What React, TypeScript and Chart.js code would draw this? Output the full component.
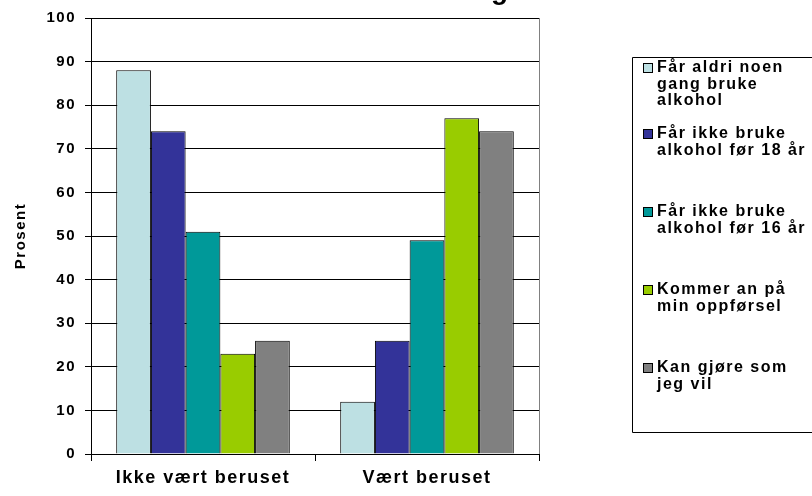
import React, { useEffect, useRef } from "react";
import { Chart, registerables } from "chart.js";

Chart.register(...registerables);

const categories = ["Ikke vært beruset", "Vært beruset"];
const seriesLabelLines = [
  ["Får aldri noen", "gang bruke", "alkohol"],
  ["Får ikke bruke", "alkohol før 18 år"],
  ["Får ikke bruke", "alkohol før 16 år"],
  ["Kommer an på", "min oppførsel"],
  ["Kan gjøre som", "jeg vil"],
];
const seriesAldri = [88, 12];
const seriesFor18 = [74, 26];
const seriesFor16 = [51, 49];
const seriesKommerAn = [23, 77];
const seriesKanGjore = [26, 74];
const seriesValues = [seriesAldri, seriesFor18, seriesFor16, seriesKommerAn, seriesKanGjore];
const seriesColors = ["#BDE0E3", "#333399", "#009999", "#99CC00", "#808080"];
const yMin = 0;
const yMax = 100;
const yStep = 10;
const yAxisTitle = "Prosent";
const titleText = "Foreldrenes holdning";

const FONT = "'Liberation Sans', Arial, Helvetica, sans-serif";
const SPACING = "1.5px";

const spacingPlugin = {
  id: "spacing",
  beforeUpdate(chart: any) {
    chart.ctx.letterSpacing = SPACING;
  },
  beforeDraw(chart: any) {
    chart.ctx.letterSpacing = SPACING;
  },
};

const decorPlugin = {
  id: "decor",
  afterDraw(chart: any) {
    const ctx = chart.ctx as CanvasRenderingContext2D;
    const area = chart.chartArea;
    ctx.save();
    // right border of plot area
    ctx.strokeStyle = "#808080";
    ctx.lineWidth = 1;
    ctx.beginPath();
    ctx.moveTo(Math.round(area.right) + 0.5, area.top);
    ctx.lineTo(Math.round(area.right) + 0.5, area.bottom);
    ctx.stroke();

    // title (clipped at top)
    ctx.fillStyle = "#000";
    ctx.letterSpacing = "0px";
    ctx.font = `bold 28px ${FONT}`;
    ctx.textAlign = "right";
    ctx.textBaseline = "alphabetic";
    ctx.fillText(titleText, 508, -1);

    // legend
    ctx.letterSpacing = SPACING;
    const boxL = 632.5, boxT = 57.5, boxB = 432.5;
    ctx.strokeStyle = "#000";
    ctx.beginPath();
    ctx.moveTo(820, boxT);
    ctx.lineTo(boxL, boxT);
    ctx.lineTo(boxL, boxB);
    ctx.lineTo(820, boxB);
    ctx.stroke();
    const itemTops = [68, 134, 212, 290, 368];
    const lineH = 16.5;
    ctx.font = `bold 16px ${FONT}`;
    ctx.textAlign = "left";
    ctx.textBaseline = "middle";
    chart.data.datasets.forEach((ds: any, i: number) => {
      const y = itemTops[i];
      ctx.fillStyle = ds.backgroundColor;
      ctx.fillRect(643, y - 5, 10, 10);
      ctx.strokeStyle = "#000";
      ctx.strokeRect(643.5, y - 4.5, 9, 9);
      ctx.fillStyle = "#000";
      seriesLabelLines[i].forEach((line, j) => {
        ctx.fillText(line, 657, y + j * lineH);
      });
    });
    ctx.restore();
  },
};

export default function App() {
  const ref = useRef<HTMLCanvasElement | null>(null);
  useEffect(() => {
    if (!ref.current) return;
    const chart = new Chart(ref.current, {
      type: "bar",
      data: {
        labels: categories,
        datasets: seriesValues.map((vals, i) => ({
          label: seriesLabelLines[i].join(" "),
          data: vals,
          backgroundColor: seriesColors[i],
          borderColor: "#000",
          borderWidth: 1,
          categoryPercentage: 0.775,
          barPercentage: 1,
        })),
      },
      options: {
        animation: false,
        responsive: false,
        devicePixelRatio: 1,
        layout: { padding: { top: 17, right: 273, left: 0, bottom: 0 } },
        plugins: {
          legend: { display: false },
          title: { display: false },
          tooltip: { enabled: false },
        },
        scales: {
          x: {
            grid: {
              display: true,
              drawOnChartArea: false,
              drawTicks: true,
              tickLength: 7,
              color: "#000",
              offset: true,
            },
            border: { display: true, color: "#000", width: 1 },
            ticks: {
              color: "#000",
              font: { family: FONT, weight: "bold", size: 18 },
              padding: 6,
            },
            afterFit: (s: any) => {
              s.height = 42;
            },
          },
          y: {
            min: yMin,
            max: yMax,
            ticks: {
              stepSize: yStep,
              color: "#000",
              font: { family: FONT, weight: "bold", size: 15 },
              padding: 9,
            },
            grid: { color: "#000", tickLength: 6, lineWidth: 1 },
            border: { display: true, color: "#000", width: 1 },
            title: {
              display: true,
              text: yAxisTitle,
              color: "#000",
              font: { family: FONT, weight: "bold", size: 15 },
              padding: { top: 12, bottom: 0 },
            },
            afterFit: (s: any) => {
              s.width = 91;
            },
          },
        },
      },
      plugins: [spacingPlugin, decorPlugin],
    } as any);
    return () => chart.destroy();
  }, []);
  return (
    <div style={{ position: "fixed", left: 0, top: 0, width: 812, height: 496, background: "#fff" }}>
      <canvas ref={ref} width={812} height={496} style={{ width: 812, height: 496, display: "block" }} />
    </div>
  );
}
